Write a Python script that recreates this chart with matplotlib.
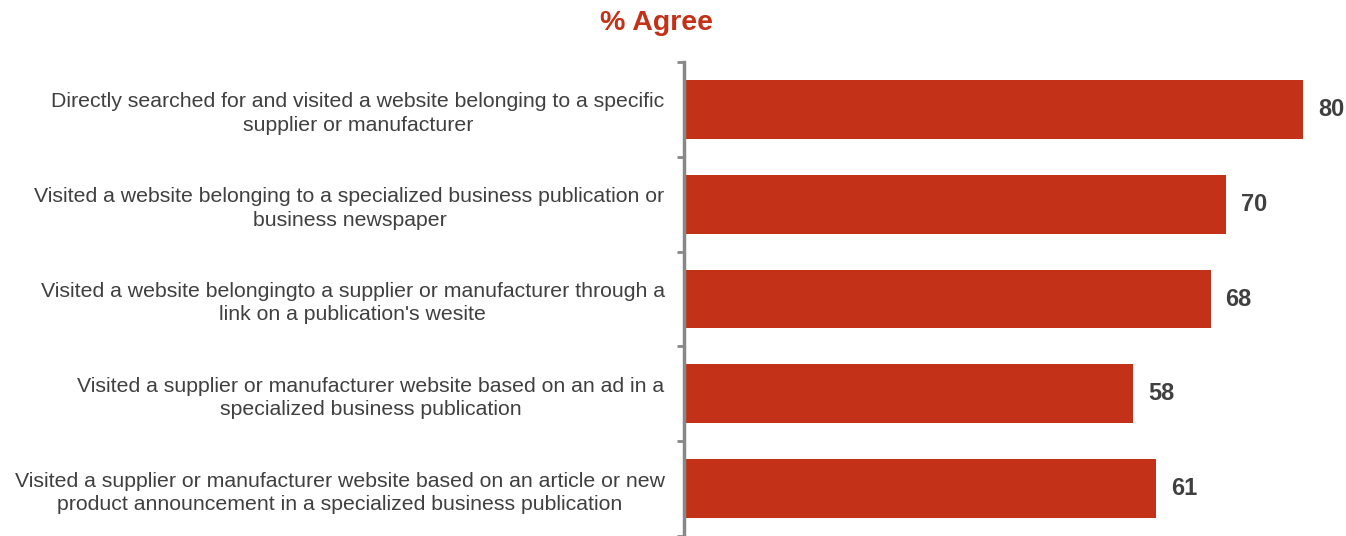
import matplotlib.pyplot as plt

# data
labels = [
    "Directly searched for and visited a website belonging to a specific\nsupplier or manufacturer",
    "Visited a website belonging to a specialized business publication or\nbusiness newspaper",
    "Visited a website belongingto a supplier or manufacturer through a\nlink on a publication's wesite",
    "Visited a supplier or manufacturer website based on an ad in a\nspecialized business publication",
    "Visited a supplier or manufacturer website based on an article or new\nproduct announcement in a specialized business publication",
]
values = [80, 70, 68, 58, 61]

plt.rcParams['font.family'] = ['Liberation Sans', 'DejaVu Sans']

fig = plt.figure(figsize=(13.46, 5.36), dpi=100)
ax = fig.add_axes([684 / 1346, 0.0, 1 - 684 / 1346, 1 - 62 / 536])

pos = list(range(len(values)))
ax.barh(pos, values, height=0.62, color="#C33218", zorder=2)
ax.set_ylim(len(values) - 0.5, -0.5)
ax.set_xlim(0, 85.5)

# value labels
for p, v in zip(pos, values):
    ax.text(v + 1.9, p, str(v), va="center", ha="left", fontsize=17,
            fontweight="bold", color="#404040")

# category labels
ax.set_yticks(pos)
ax.set_yticklabels(labels, fontsize=15.3, color="#404040",
                   multialignment="center", linespacing=1.3)
ax.tick_params(axis="y", length=0, pad=14)
ax.set_yticks([p - 0.5 for p in pos] + [len(values) - 0.5], minor=True)
ax.tick_params(axis="y", which="minor", length=5, width=2, color="#888888")

ax.set_xticks([])
for s in ["top", "right", "bottom"]:
    ax.spines[s].set_visible(False)
ax.spines["left"].set_color("#888888")
ax.spines["left"].set_linewidth(2.5)

fig.text(656 / 1346, 1 - 23 / 536, "% Agree", ha="center", va="center",
         fontsize=20.5, fontweight="bold", color="#C33218")

fig.savefig("out.png", dpi=100)
